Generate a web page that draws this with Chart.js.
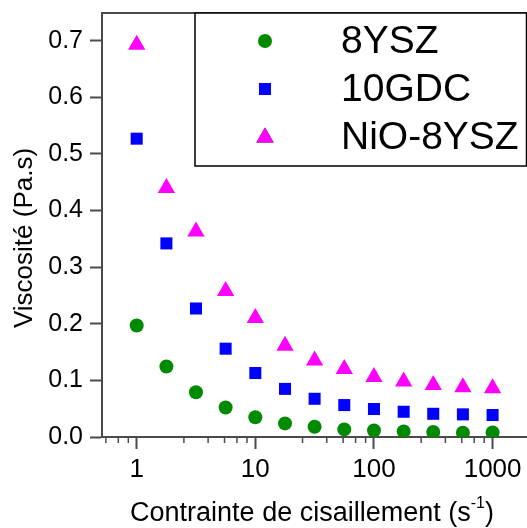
<!DOCTYPE html>
<html>
<head>
<meta charset="utf-8">
<script src="https://cdn.jsdelivr.net/npm/chart.js@4/dist/chart.umd.min.js"></script>
<style>
  html, body { margin: 0; padding: 0; background: #fff; }
  canvas { display: block; }
</style>
</head>
<body>
<canvas id="viscoChart" width="527" height="528"></canvas>
<script>
// Shear stress values (s^-1)
const shear = [1, 1.78, 3.16, 5.62, 10, 17.8, 31.6, 56.2, 100, 178, 316, 562, 1000];
// Viscosity (Pa.s) per powder
const ysz8 = [0.197, 0.1245, 0.079, 0.052, 0.035, 0.024, 0.018, 0.0134, 0.0116, 0.0099, 0.0088, 0.0076, 0.008];
const gdc10 = [0.527, 0.342, 0.227, 0.156, 0.113, 0.085, 0.0675, 0.0564, 0.0494, 0.0446, 0.041, 0.040, 0.0388];
const nio8ysz = [0.693, 0.440, 0.363, 0.258, 0.210, 0.161, 0.135, 0.120, 0.106, 0.098, 0.092, 0.088, 0.086];

const seriesNames = ['8YSZ', '10GDC', 'NiO-8YSZ'];
const xMajorTicks = [1, 10, 100, 1000];
const xMinorSteps = [2.5, 4, 5.5, 7, 8.5];
const xDecades = [0.1, 1, 10, 100, 1000];
const yTicks = [0, 0.1, 0.2, 0.3, 0.4, 0.5, 0.6, 0.7];

const FONT = 'Arial, "Liberation Sans", sans-serif';
const AXIS = '#4a4a4a';

const toPoints = ys => shear.map((x, i) => ({ x: x, y: ys[i] }));

// Minor ticks (Origin style, linear steps inside each decade)
const X_MIN = 0.51, X_MAX = 1950;
const xMinorTicks = [];
xDecades.forEach(d => xMinorSteps.forEach(s => {
    const v = d * s;
    if (v > X_MIN && v < X_MAX) xMinorTicks.push(v);
}));

const framePlugin = {
    id: 'frame',
    afterDraw(chart) {
        const ctx = chart.ctx;
        const area = chart.chartArea;
        const xs = chart.scales.x;
        ctx.save();
        // top frame line
        ctx.strokeStyle = AXIS;
        ctx.lineWidth = 2;
        ctx.beginPath();
        ctx.moveTo(area.left - 1, area.top);
        ctx.lineTo(area.right, area.top);
        ctx.stroke();
        // minor x ticks
        ctx.lineWidth = 1.5;
        xMinorTicks.forEach(v => {
            const px = xs.getPixelForValue(v);
            ctx.beginPath();
            ctx.moveTo(px, area.bottom);
            ctx.lineTo(px, area.bottom + 6);
            ctx.stroke();
        });

        // legend box
        const lx = 195, ly = area.top, lw = 331.5, lh = 153;
        ctx.fillStyle = '#fff';
        ctx.fillRect(lx, ly, lw, lh);
        ctx.strokeStyle = '#000';
        ctx.lineWidth = 1.5;
        ctx.strokeRect(lx, ly, lw, lh);
        ctx.font = '39px ' + FONT;
        ctx.textBaseline = 'middle';
        ctx.textAlign = 'left';
        const rows = [41, 89, 137.5];
        chart.data.datasets.forEach((ds, i) => {
            const y = rows[i];
            Chart.helpers.drawPoint(ctx, {
                pointStyle: ds.pointStyle,
                radius: ds.pointRadius,
                rotation: 0,
                borderWidth: 0
            }, 265, y);
            ctx.fillStyle = ds.backgroundColor;
            ctx.fill();
            ctx.fillStyle = '#000';
            ctx.fillText(ds.label, 341, y + 1);
        });

        // axis titles
        ctx.fillStyle = '#000';
        ctx.textBaseline = 'alphabetic';
        const main = 'Contrainte de cisaillement (s';
        const sup = '-1';
        const tail = ')';
        ctx.font = '27px ' + FONT;
        const w1 = ctx.measureText(main).width;
        const w3 = ctx.measureText(tail).width;
        ctx.font = '16px ' + FONT;
        const w2 = ctx.measureText(sup).width;
        let x0 = 312 - (w1 + w2 + w3) / 2;
        const base = 521;
        ctx.font = '27px ' + FONT;
        ctx.fillText(main, x0, base);
        ctx.font = '16px ' + FONT;
        ctx.fillText(sup, x0 + w1, base - 13);
        ctx.font = '27px ' + FONT;
        ctx.fillText(tail, x0 + w1 + w2, base);

        ctx.translate(32, 238);
        ctx.rotate(-Math.PI / 2);
        ctx.textAlign = 'center';
        ctx.font = '26px ' + FONT;
        ctx.fillText('Viscosité (Pa.s)', 0, 0);
        ctx.restore();
    }
};

new Chart(document.getElementById('viscoChart'), {
    type: 'scatter',
    data: {
        datasets: [{
            label: seriesNames[0],
            data: toPoints(ysz8),
            pointStyle: 'circle',
            pointRadius: 7,
            backgroundColor: '#008a00',
            borderWidth: 0
        }, {
            label: seriesNames[1],
            data: toPoints(gdc10),
            pointStyle: 'rect',
            pointRadius: 8.5,
            backgroundColor: '#0000ff',
            borderWidth: 0
        }, {
            label: seriesNames[2],
            data: toPoints(nio8ysz),
            pointStyle: 'triangle',
            pointRadius: 10,
            backgroundColor: '#ff00ff',
            borderWidth: 0
        }]
    },
    options: {
        responsive: false,
        animation: false,
        layout: { autoPadding: false, padding: { top: 13, right: 0, left: 0, bottom: 0 } },
        plugins: {
            legend: { display: false },
            tooltip: { enabled: false }
        },
        scales: {
            x: {
                type: 'logarithmic',
                min: X_MIN,
                max: X_MAX,
                afterBuildTicks: s => { s.ticks = xMajorTicks.map(v => ({ value: v })); },
                afterFit: s => { s.height = 91; s.paddingLeft = 0; s.paddingRight = 0; },
                ticks: {
                    callback: v => String(v),
                    color: '#000',
                    font: { family: FONT, size: 26 },
                    padding: 5,
                    maxRotation: 0,
                    autoSkip: false
                },
                grid: { drawOnChartArea: false, tickLength: 12, tickWidth: 2, tickColor: AXIS },
                border: { color: AXIS, width: 2 }
            },
            y: {
                min: 0,
                max: 0.749,
                afterBuildTicks: s => { s.ticks = yTicks.map(v => ({ value: v })); },
                afterFit: s => { s.width = 102; s.paddingTop = 0; s.paddingBottom = 0; },
                ticks: {
                    callback: v => v.toFixed(1),
                    color: '#000',
                    font: { family: FONT, size: 25 },
                    padding: 7
                },
                grid: { drawOnChartArea: false, tickLength: 12, tickWidth: 2, tickColor: AXIS },
                border: { color: AXIS, width: 2 }
            }
        }
    },
    plugins: [framePlugin]
});
</script>
</body>
</html>
